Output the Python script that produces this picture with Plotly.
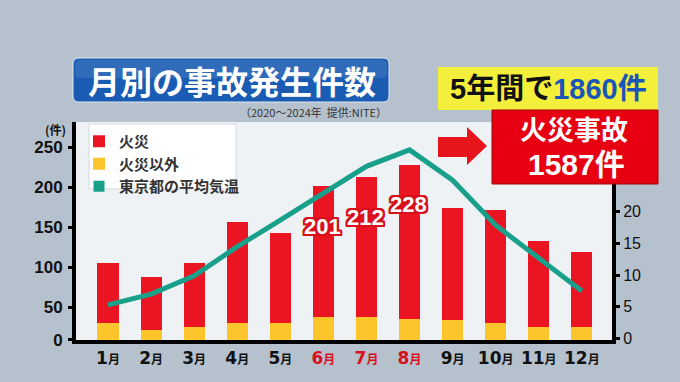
import plotly.graph_objects as go

# ---------------- data ----------------
months = ["1月", "2月", "3月", "4月", "5月", "6月", "7月", "8月", "9月", "10月", "11月", "12月"]
totals = [105, 87, 105, 156, 142, 201, 212, 228, 174, 171, 132, 119]
non_fire = [30, 21, 25, 30, 30, 38, 37, 35, 34, 30, 25, 25]
fire = [t - n for t, n in zip(totals, non_fire)]
temp = [5.3, 7.0, 9.9, 14.5, 18.7, 22.9, 27.2, 29.8, 25.0, 17.9, 12.7, 7.5]
highlight_months = ["6月", "7月", "8月"]
left_tick_vals = [9, 50, 100, 150, 200, 250]
left_tick_text = ["0", "50", "100", "150", "200", "250"]
right_tick_vals = [0, 5, 10, 15, 20]
labelled_idx = [5, 6, 7]
series_names = ["火災", "火災以外", "東京都の平均気温"]

title_text = "月別の事故発生件数"
source_text = "（2020～2024年  提供:NITE）"
total_text_a = "5年間で"
total_text_b = "1860件"
fire_text_1 = "火災事故"
fire_text_2 = "1587件"

# ---------------- geometry helpers ----------------
W_, H_ = 680, 382
L, R, T, B = 76, 612, 122, 340
PW, PH = R - L, B - T


def px(x):
    return (x - L) / PW


def py(y):
    return (B - y) / PH


FONT = "Liberation Sans, Arial, Noto Sans CJK JP, sans-serif"
WFONT = "DejaVu Sans, Noto Sans CJK JP, sans-serif"
JFONT = "Noto Sans CJK JP, Liberation Sans, sans-serif"
TEAL = "#18a08b"

fig = go.Figure()
fig.add_trace(go.Bar(x=months, y=non_fire, name=f"<b>{series_names[1]}</b>",
                     marker=dict(color="#fbc52b", line=dict(width=0)), width=0.49, legendrank=2))
fig.add_trace(go.Bar(x=months, y=fire, name=f"<b>{series_names[0]}</b>",
                     marker=dict(color="#ea1422", line=dict(width=0)), width=0.49, legendrank=1))
fig.add_trace(go.Scatter(x=months, y=temp, yaxis="y2", mode="lines", line=dict(color=TEAL, width=5),
                         showlegend=False))
fig.add_trace(go.Scatter(x=[None], y=[None], mode="markers", name=f"<b>{series_names[2]}</b>",
                         marker=dict(symbol="square", size=11, color=TEAL), legendrank=3))

ticktext = []
for m in months:
    num = m[:-1]
    col = "#d9101c" if m in highlight_months else "#111111"
    ticktext.append(f"<b><span style='color:{col}'>{num}<span style='font-size:12px'>月</span></span></b>")

shapes = []


def rounded(x0, y0, x1, y1, r):
    X = lambda v: px(v)
    Y = lambda v: py(v)
    return (f"M {X(x0+r)},{Y(y0)} L {X(x1-r)},{Y(y0)} Q {X(x1)},{Y(y0)} {X(x1)},{Y(y0+r)} "
            f"L {X(x1)},{Y(y1-r)} Q {X(x1)},{Y(y1)} {X(x1-r)},{Y(y1)} L {X(x0+r)},{Y(y1)} "
            f"Q {X(x0)},{Y(y1)} {X(x0)},{Y(y1-r)} L {X(x0)},{Y(y0+r)} Q {X(x0)},{Y(y0)} {X(x0+r)},{Y(y0)} Z")


# title box
shapes.append(dict(type="path", xref="paper", yref="paper", path=rounded(73, 58, 389, 102, 6),
                   fillcolor="#1a5cb3", line=dict(color="#dfe8f2", width=1), layer="above"))
shapes.append(dict(type="path", xref="paper", yref="paper", path=rounded(75, 60, 387, 78, 5),
                   fillcolor="rgba(255,255,255,0.10)", line=dict(width=0), layer="above"))
# legend panel
shapes.append(dict(type="rect", xref="paper", yref="paper", x0=px(89), x1=px(236), y0=py(124), y1=py(189),
                   fillcolor="white", line=dict(color="#d5dbe1", width=1), layer="above"))
# yellow box
shapes.append(dict(type="rect", xref="paper", yref="paper", x0=px(438), x1=px(658), y0=py(67), y1=py(110),
                   fillcolor="#f4ef3b", line=dict(width=0), layer="above"))
# red box
shapes.append(dict(type="rect", xref="paper", yref="paper", x0=px(492), x1=px(658), y0=py(110), y1=py(184),
                   fillcolor="#e60012", line=dict(color="#9b0b0b", width=1), layer="above"))
# arrow
pts = [(438, 137), (467, 137), (467, 127), (487, 146), (467, 165), (467, 157), (438, 157)]
path = "M " + " L ".join(f"{px(a)},{py(b)}" for a, b in pts) + " Z"
shapes.append(dict(type="path", xref="paper", yref="paper", path=path, fillcolor="#e8141c",
                   line=dict(width=0), layer="above"))

annotations = [
    dict(x=px(232), y=py(80), xref="paper", yref="paper", text=f"<b>{title_text}</b>", showarrow=False,
         font=dict(family=JFONT, size=32, color="white"), xanchor="center", yanchor="middle"),
    dict(x=px(389), y=py(112), xref="paper", yref="paper", text=source_text, showarrow=False,
         font=dict(family=JFONT, size=11, color="#333333"), xanchor="right", yanchor="middle"),
    dict(x=px(548), y=py(89), xref="paper", yref="paper",
         text=f"<b>{total_text_a}<span style='color:#1a55b8'>{total_text_b}</span></b>", showarrow=False,
         font=dict(family=FONT, size=29, color="#111111"), xanchor="center", yanchor="middle"),
    dict(x=px(574), y=py(131), xref="paper", yref="paper", text=f"<b>{fire_text_1}</b>", showarrow=False,
         font=dict(family=FONT, size=27, color="white"), xanchor="center", yanchor="middle"),
    dict(x=px(576), y=py(164), xref="paper", yref="paper", text=f"<b>{fire_text_2}</b>", showarrow=False,
         font=dict(family=FONT, size=30, color="white"), xanchor="center", yanchor="middle"),
    dict(x=px(55), y=py(129), xref="paper", yref="paper", text="<b>(件)</b>", showarrow=False,
         font=dict(family=JFONT, size=12, color="#111111"), xanchor="center", yanchor="middle"),
]
shadow = ",".join(f"{dx}px {dy}px 0 #d8101c" for dx in (-2, -1, 0, 1, 2) for dy in (-2, -1, 0, 1, 2) if dx or dy)
for i in labelled_idx:
    annotations.append(dict(x=months[i], y=totals[i], xref="x", yref="y", text=f"<b>{totals[i]}</b>",
                            showarrow=False, yshift=-40, xshift=-1,
                            font=dict(family=FONT, size=22, color="white", shadow=shadow),
                            xanchor="center", yanchor="middle"))

fig.update_layout(
    width=W_, height=H_,
    margin=dict(l=L, r=W_ - R, t=T, b=H_ - B, pad=0),
    paper_bgcolor="#b5c1cc",
    plot_bgcolor="#eff2f5",
    barmode="stack",
    bargap=0.5,
    showlegend=True,
    legend=dict(x=px(79), y=py(125), xanchor="left", yanchor="top", bgcolor="rgba(0,0,0,0)",
                font=dict(family=JFONT, size=15, color="#333333"), traceorder="normal",
                itemwidth=30, tracegroupgap=0),
    xaxis=dict(range=[-0.743, 11.70], tickvals=months, ticktext=ticktext, showline=True, linecolor="black",
               linewidth=4, ticks="", showgrid=False, zeroline=False,
               tickfont=dict(family=WFONT, size=17, color="#111111")),
    yaxis=dict(range=[8.75, 281.25], tickvals=left_tick_vals, ticktext=left_tick_text, showline=True,
               linecolor="black", linewidth=4, ticks="outside", ticklen=4, tickwidth=3, tickcolor="black",
               showgrid=False, zeroline=False, ticklabelstandoff=2,
               tickfont=dict(family=FONT, size=17, color="#111111", weight="bold")),
    yaxis2=dict(range=[-0.24, 34.2], overlaying="y", side="right", tickvals=right_tick_vals, showline=True,
                linecolor="black", linewidth=4, ticks="outside", ticklen=4, tickwidth=3, tickcolor="black",
                showgrid=False, zeroline=False,
                tickfont=dict(family=FONT, size=16, color="#111111")),
    shapes=shapes,
    annotations=annotations,
)

fig.write_html("out.html", config={"displayModeBar": False},
               post_script="document.body.style.margin='0';document.body.style.padding='0';")
